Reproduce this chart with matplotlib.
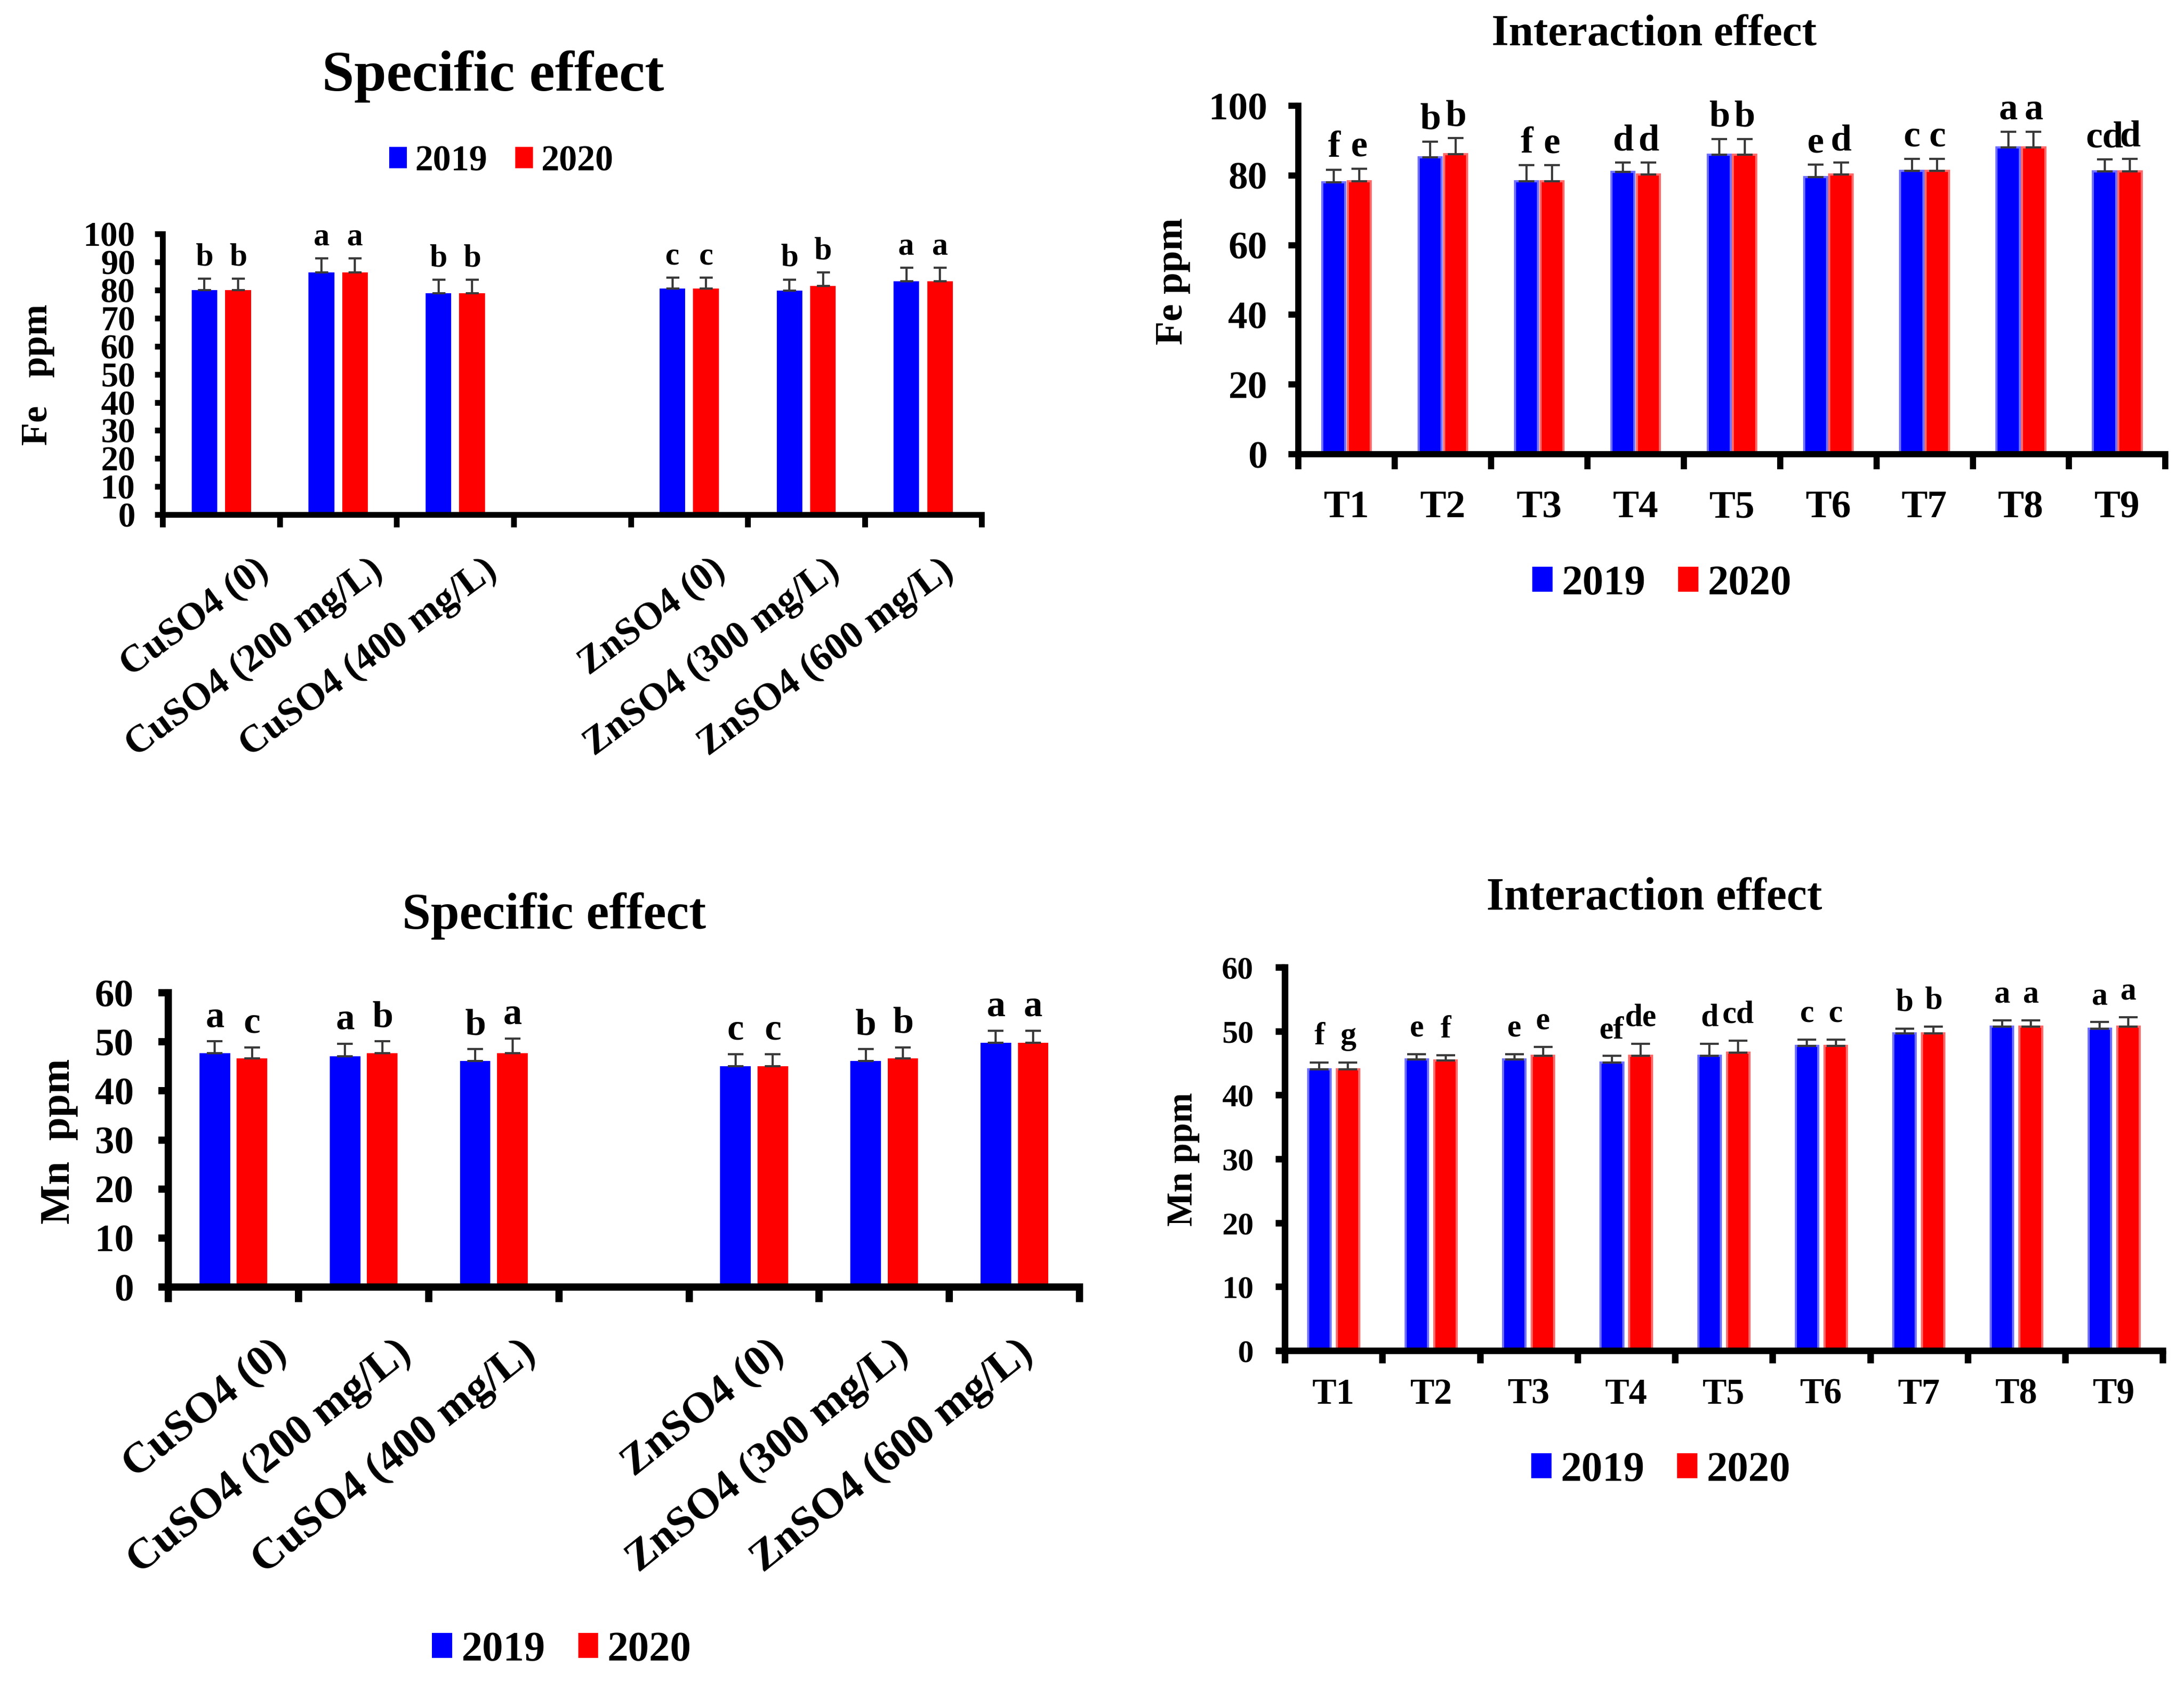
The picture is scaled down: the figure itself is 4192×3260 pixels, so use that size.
import numpy as np
import matplotlib
matplotlib.use("Agg")
import matplotlib.pyplot as plt
from matplotlib.patches import Patch
from matplotlib.transforms import offset_copy

plt.rcParams['font.family'] = ['Liberation Serif', 'DejaVu Serif']
plt.rcParams['font.weight'] = 'bold'

BLUE = '#0000ff'
RED = '#ff0000'
ERRC = '#3a3a3a'

# ---- data ----
spec_labels = ['CuSO4 (0)', 'CuSO4 (200 mg/L)', 'CuSO4 (400 mg/L)',
               'ZnSO4 (0)', 'ZnSO4 (300 mg/L)', 'ZnSO4 (600 mg/L)']
int_labels = ['T1', 'T2', 'T3', 'T4', 'T5', 'T6', 'T7', 'T8', 'T9']

fe_spec_2019 = [80.0, 86.3, 78.9, 80.6, 79.8, 83.2]
fe_spec_2020 = [80.0, 86.3, 78.9, 80.6, 81.5, 83.2]
fe_spec_err19 = [4.0, 5.0, 4.8, 3.8, 4.0, 4.7]
fe_spec_err20 = [4.0, 5.0, 4.8, 3.8, 4.8, 4.7]
fe_spec_let19 = ['b', 'a', 'b', 'c', 'b', 'a']
fe_spec_let20 = ['b', 'a', 'b', 'c', 'b', 'a']

fe_int_2019 = [78.0, 85.2, 78.4, 81.1, 86.0, 79.5, 81.4, 88.0, 81.2]
fe_int_2020 = [78.4, 86.1, 78.4, 80.3, 86.0, 80.3, 81.4, 88.0, 81.2]
fe_int_err19 = [3.7, 4.5, 4.5, 2.6, 4.5, 3.6, 3.4, 4.6, 3.4]
fe_int_err20 = [3.6, 4.6, 4.5, 3.4, 4.5, 3.4, 3.4, 4.6, 3.6]
fe_int_let19 = ['f', 'b', 'f', 'd', 'b', 'e', 'c', 'a', 'cd']
fe_int_let20 = ['e', 'b', 'e', 'd', 'b', 'd', 'c', 'a', 'd']

mn_spec_2019 = [47.7, 47.1, 46.1, 45.0, 46.1, 49.8]
mn_spec_2020 = [46.6, 47.7, 47.7, 45.0, 46.6, 49.8]
mn_spec_err19 = [2.4, 2.5, 2.4, 2.5, 2.4, 2.5]
mn_spec_err20 = [2.3, 2.4, 3.0, 2.5, 2.3, 2.5]
mn_spec_let19 = ['a', 'a', 'b', 'c', 'b', 'a']
mn_spec_let20 = ['c', 'b', 'a', 'c', 'b', 'a']

mn_int_2019 = [44.0, 45.6, 45.6, 45.1, 46.1, 47.7, 49.6, 50.7, 50.4]
mn_int_2020 = [44.0, 45.4, 46.1, 46.1, 46.6, 47.7, 49.6, 50.7, 50.7]
mn_int_err19 = [1.1, 0.8, 0.8, 1.0, 1.9, 1.0, 0.8, 1.0, 1.0]
mn_int_err20 = [1.1, 0.8, 1.4, 1.9, 1.9, 1.0, 1.1, 1.0, 1.5]
mn_int_let19 = ['f', 'e', 'e', 'ef', 'd', 'c', 'b', 'a', 'a']
mn_int_let20 = ['g', 'f', 'e', 'de', 'cd', 'c', 'b', 'a', 'a']

years = ['2019', '2020']

fig = plt.figure(figsize=(41.92, 32.60), dpi=100)
PX = 72 / fig.dpi  # pixels -> points


def draw_bars(ax, pos, v19, v20, e19, e20, l19, l20, off, width, gap,
              letsize, capsize, edge=False):
    pos = np.asarray(pos, dtype=float)
    ekw = dict(ecolor=ERRC, elinewidth=3, capsize=capsize, capthick=3)
    lw = 3 if edge else 0
    ax.bar(pos - off, v19, width, color=BLUE, edgecolor='#7070ff', linewidth=lw,
           yerr=[np.zeros(len(v19)), e19], error_kw=ekw, zorder=2)
    ax.bar(pos + off, v20, width, color=RED, edgecolor='#ff6a6a', linewidth=lw,
           yerr=[np.zeros(len(v20)), e20], error_kw=ekw, zorder=2)
    for p, v, e, t in zip(pos - off, v19, e19, l19):
        ax.text(p, v + e + gap, t, ha='center', va='baseline',
                fontsize=letsize, fontweight='bold')
    for p, v, e, t in zip(pos + off, v20, e20, l20):
        ax.text(p, v + e + gap, t, ha='center', va='baseline',
                fontsize=letsize, fontweight='bold')


def style_axes(ax, spine_w, ylen, ypad, ysize, xlen):
    for s in ['top', 'right']:
        ax.spines[s].set_visible(False)
    for s in ['left', 'bottom']:
        ax.spines[s].set_linewidth(spine_w)
    ax.tick_params(axis='y', which='major', direction='out', length=ylen,
                   width=spine_w, pad=ypad, labelsize=ysize)
    ax.tick_params(axis='x', which='major', direction='out', length=xlen,
                   width=spine_w, labelbottom=False)


def slanted_labels(ax, pos, labels, dx0, dx_step, dy, angle, size):
    # rotated category labels, right end placed a little right of the slot
    for p, lab in zip(pos, labels):
        tr = offset_copy(ax.get_xaxis_transform(), fig=fig,
                         x=(dx0 - dx_step * p) * PX, y=dy * PX, units='points')
        ax.text(p, 0, lab, transform=tr, rotation=angle, rotation_mode='anchor',
                ha='right', va='top', fontsize=size, fontweight='bold')


# ---------- Fe specific effect (top left) ----------
ax1 = fig.add_axes([0.0745, 0.6969, 0.375, 0.1653])
spec_pos = [i if i < 3 else i + 1 for i in range(len(spec_labels))]
draw_bars(ax1, spec_pos, fe_spec_2019, fe_spec_2020, fe_spec_err19, fe_spec_err20,
          fe_spec_let19, fe_spec_let20, off=0.1435, width=0.22, gap=4.8,
          letsize=44, capsize=9)
ax1.set_xlim(-0.5, 6.5)
ax1.set_ylim(0, 100)
ax1.set_yticks(np.arange(0, 101, 10))
ax1.set_xticks(np.arange(-0.5, 6.6, 1))
style_axes(ax1, 8, 11, 27, 48, 17)
slanted_labels(ax1, spec_pos, spec_labels, 64, 5.5, -72, 36.4, 53)
fig.text(0.2257, 0.9549, 'Specific effect', ha='center', va='center', fontsize=80,
         fontweight='bold')
fig.text(0.0174, 0.7794, 'Fe   ppm', rotation=90, ha='center', va='center',
         fontsize=52, fontweight='bold')

# ---------- Fe interaction effect (top right) ----------
ax2 = fig.add_axes([0.5945, 0.7325, 0.397, 0.2052])
int_pos = np.arange(len(int_labels))
draw_bars(ax2, int_pos, fe_int_2019, fe_int_2020, fe_int_err19, fe_int_err20,
          fe_int_let19, fe_int_let20, off=0.132, width=0.24, gap=3.6,
          letsize=52, capsize=11, edge=True)
ax2.set_xlim(-0.5, 8.5)
ax2.set_ylim(0, 100)
ax2.set_yticks(np.arange(0, 101, 20))
ax2.set_xticks(np.arange(-0.5, 8.6, 1))
style_axes(ax2, 8.5, 14, 29, 54, 21)
ax2.set_xticks(int_pos, minor=True)
ax2.set_xticklabels(int_labels, minor=True)
ax2.tick_params(axis='x', which='minor', length=0, pad=50, labelsize=54)
fig.text(0.7574, 0.9795, 'Interaction effect', ha='center', va='center',
         fontsize=61, fontweight='bold')
fig.text(0.537, 0.8344, 'Fe ppm', rotation=90, ha='center', va='center',
         fontsize=54, fontweight='bold')

# ---------- Mn specific effect (bottom left) ----------
ax3 = fig.add_axes([0.0771, 0.242, 0.4172, 0.1733])
draw_bars(ax3, spec_pos, mn_spec_2019, mn_spec_2020, mn_spec_err19, mn_spec_err20,
          mn_spec_let19, mn_spec_let20, off=0.143, width=0.235, gap=3.0,
          letsize=52, capsize=11)
ax3.set_xlim(-0.5, 6.5)
ax3.set_ylim(0, 60)
ax3.set_yticks(np.arange(0, 61, 10))
ax3.set_xticks(np.arange(-0.5, 6.6, 1))
style_axes(ax3, 10, 14, 34, 54, 21)
slanted_labels(ax3, spec_pos, spec_labels, 70, 11.2, -88, 38.6, 60)
fig.text(0.2536, 0.4607, 'Specific effect', ha='center', va='center', fontsize=71,
         fontweight='bold')
fig.text(0.027, 0.3279, 'Mn  ppm', rotation=90, ha='center', va='center',
         fontsize=58, fontweight='bold')

# ---------- Mn interaction effect (bottom right) ----------
ax4 = fig.add_axes([0.5883, 0.2046, 0.402, 0.2258])
draw_bars(ax4, int_pos, mn_int_2019, mn_int_2020, mn_int_err19, mn_int_err20,
          mn_int_let19, mn_int_let20, off=0.147, width=0.23, gap=2.8,
          letsize=44, capsize=13, edge=True)
ax4.set_xlim(-0.5, 8.5)
ax4.set_ylim(0, 60)
ax4.set_yticks(np.arange(0, 61, 10))
ax4.set_xticks(np.arange(-0.5, 8.6, 1))
style_axes(ax4, 9, 13, 30, 44, 17)
ax4.set_xticks(int_pos, minor=True)
ax4.set_xticklabels(int_labels, minor=True)
ax4.tick_params(axis='x', which='minor', length=0, pad=38, labelsize=50)
fig.text(0.7574, 0.4709, 'Interaction effect', ha='center', va='center',
         fontsize=63, fontweight='bold')
fig.text(0.5417, 0.3172, 'Mn ppm', rotation=90, ha='center', va='center',
         fontsize=50, fontweight='bold')

# ---------- legends ----------
handles = [Patch(facecolor=BLUE), Patch(facecolor=RED)]
leg_specs = [((0.2295, 0.9049), 50), ((0.761, 0.6561), 58),
             ((0.2572, 0.0282), 58), ((0.7605, 0.134), 58)]
for anchor, fs in leg_specs:
    fig.legend(handles, years, loc='center', bbox_to_anchor=anchor, ncol=2,
               frameon=False, handlelength=0.48, handleheight=0.55,
               handletextpad=0.22, columnspacing=0.78, borderpad=0,
               prop={'weight': 'bold', 'size': fs})

fig.savefig('out.png', dpi=100, facecolor='white')
